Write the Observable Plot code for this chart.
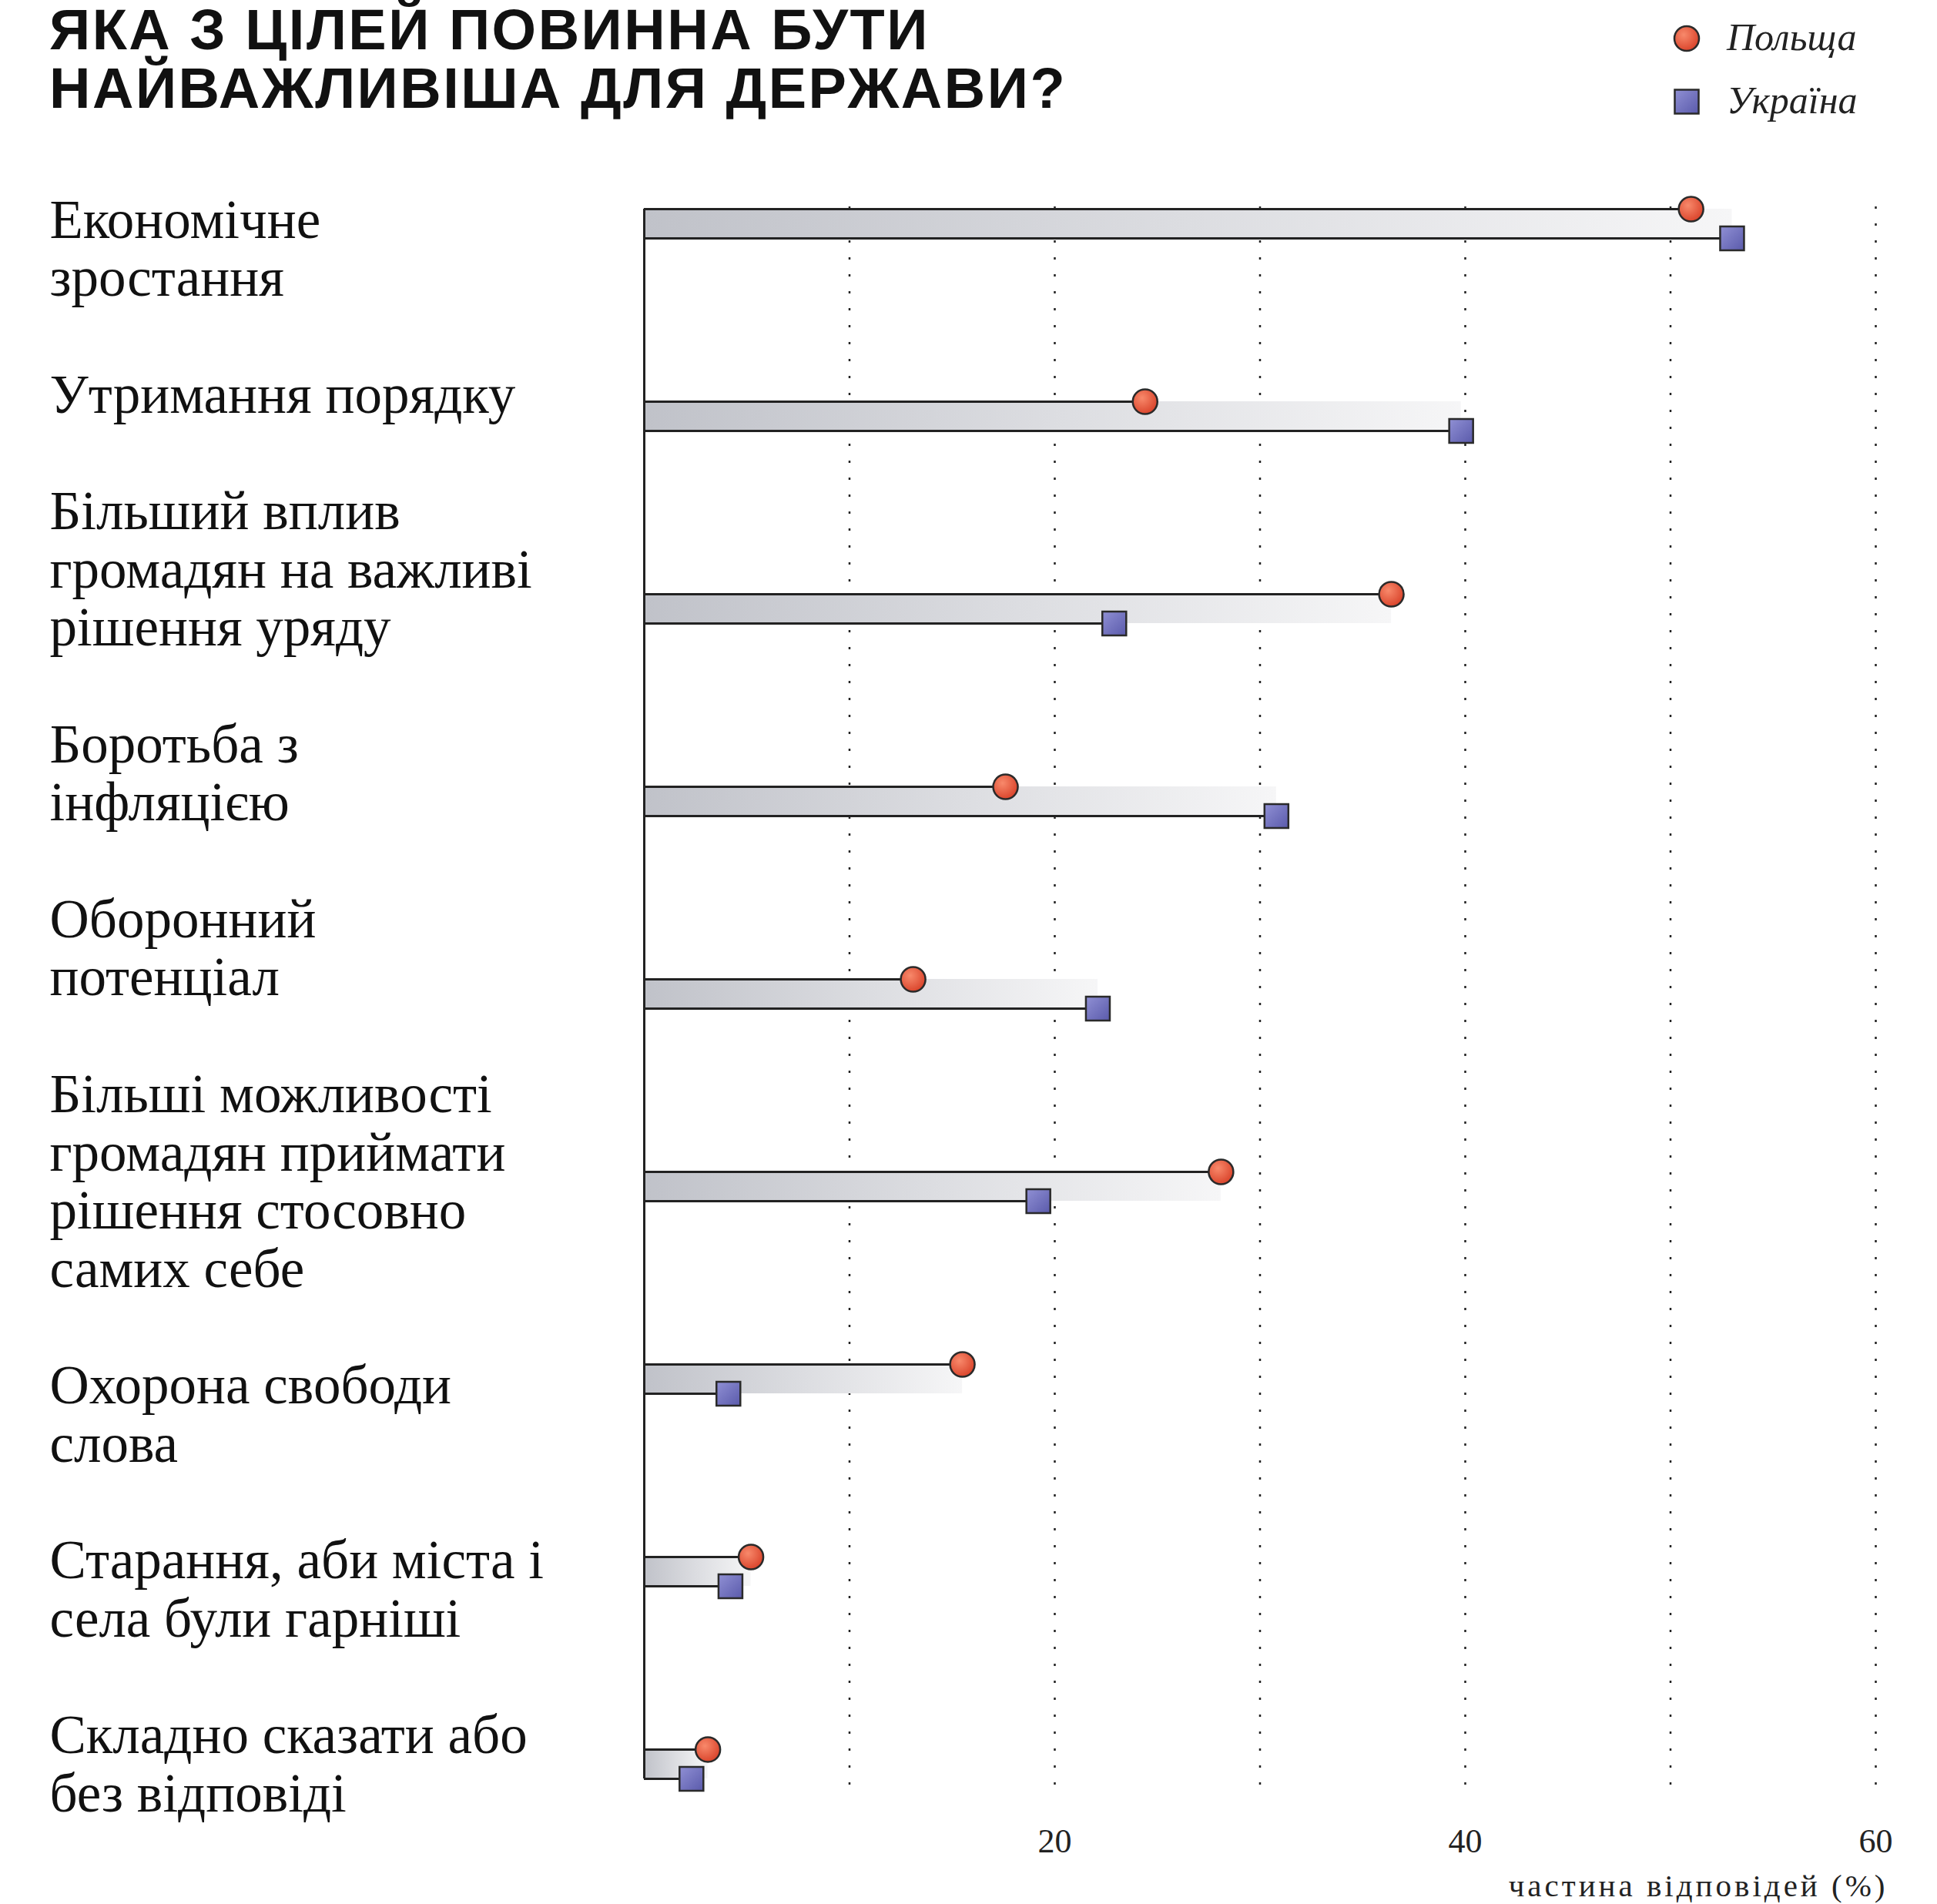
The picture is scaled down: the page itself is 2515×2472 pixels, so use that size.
<!DOCTYPE html>
<html><head><meta charset="utf-8">
<script src="https://cdn.jsdelivr.net/npm/d3@7"></script>
<script src="https://cdn.jsdelivr.net/npm/@observablehq/plot@0.6"></script>
<style>
body{margin:0;background:#fff;width:2515px;height:2472px;overflow:hidden;}
#header{position:relative;width:2515px;height:200px;}
#title{position:absolute;left:64px;top:1px;margin:0;font-family:"Liberation Sans",Arial,sans-serif;font-weight:700;font-size:74px;line-height:76px;letter-spacing:2.5px;color:#111;white-space:nowrap;}
#legend{position:absolute;left:2150px;top:0;}
#chart svg{display:block;}
</style></head>
<body>
<svg width="0" height="0" style="position:absolute">
  <defs>
    <linearGradient id="bandGrad" x1="0" y1="0" x2="1" y2="0">
      <stop offset="0" stop-color="#c0c2c9"/>
      <stop offset="0.5" stop-color="#dcdde1"/>
      <stop offset="1" stop-color="#f6f6f7"/>
    </linearGradient>
    <radialGradient id="dotGrad" cx="0.38" cy="0.35" r="0.75">
      <stop offset="0" stop-color="#f8896b"/>
      <stop offset="1" stop-color="#d63c24"/>
    </radialGradient>
    <linearGradient id="sqGrad" x1="0" y1="0" x2="1" y2="1">
      <stop offset="0" stop-color="#9090d4"/>
      <stop offset="1" stop-color="#5a5aab"/>
    </linearGradient>
  </defs>
</svg>
<div id="header">
  <h1 id="title">ЯКА З ЦІЛЕЙ ПОВИННА БУТИ<br>НАЙВАЖЛИВІША ДЛЯ ДЕРЖАВИ?</h1>
  <div id="legend"></div>
</div>
<div id="chart"></div>
<script>
const categories = [
  "Економічне\nзростання",
  "Утримання порядку",
  "Більший вплив\nгромадян на важливі\nрішення уряду",
  "Боротьба з\nінфляцією",
  "Оборонний\nпотенціал",
  "Більші можливості\nгромадян приймати\nрішення стосовно\nсамих себе",
  "Охорона свободи\nслова",
  "Старання, аби міста і\nсела були гарніші",
  "Складно сказати або\nбез відповіді"
];
const poland  = [51.0, 24.4, 36.4, 17.6, 13.1, 28.1, 15.5, 5.2, 3.1];
const ukraine = [53.0, 39.8, 22.9, 30.8, 22.1, 19.2, 4.1, 4.2, 2.3];
const seriesNames = ["Польща", "Україна"];
const xTicks = [20, 40, 60];
const gridValues = [10, 20, 30, 40, 50, 60];
const axisLabel = "частина відповідей (%)";

const rows = categories.map((c, i) => ({
  category: c, poland: poland[i], ukraine: ukraine[i],
  max: Math.max(poland[i], ukraine[i])
}));

const half = 19;
const rowStep = 250.625;
const firstCenter = 87;
const bandH = 2 * half;
const pInner = 1 - bandH / rowStep;
const ink = "#222";

const chart = Plot.plot({
  width: 2515,
  height: 2272,
  marginTop: 68,
  marginBottom: 138,
  marginLeft: 836,
  marginRight: 80,
  style: {fontFamily: "'Liberation Serif', serif", fontSize: "44px", color: ink, background: "transparent", overflow: "visible"},
  x: {domain: [0, 60], ticks: xTicks, tickSize: 0, tickPadding: 39, label: null},
  y: {
    type: "band", domain: categories, axis: null,
    range: [firstCenter - rowStep / 2, firstCenter + rowStep * (categories.length - 0.5)],
    paddingInner: pInner, paddingOuter: pInner / 2
  },
  marks: [
    Plot.ruleX(gridValues, {stroke: ink, strokeWidth: 2.5, strokeDasharray: "3 19"}),
    Plot.barX(rows, {y: "category", x1: 0, x2: "max", fill: "url(#bandGrad)"}),
    Plot.ruleY(rows, {y: "category", x1: 0, x2: "poland", dy: -half, stroke: ink, strokeWidth: 3}),
    Plot.ruleY(rows, {y: "category", x1: 0, x2: "ukraine", dy: half, stroke: ink, strokeWidth: 3}),
    Plot.ruleX([0], {y1: () => categories[0], y2: () => categories[categories.length - 1], stroke: ink, strokeWidth: 3}),
    Plot.dot(rows, {y: "category", x: "ukraine", dy: half, symbol: "square", r: 17.5, fill: "url(#sqGrad)", stroke: "#2a2a2a", strokeWidth: 2.5}),
    Plot.dot(rows, {y: "category", x: "poland", dy: -half, r: 16, fill: "url(#dotGrad)", stroke: "#2a2a2a", strokeWidth: 2.5}),
    Plot.text([categories.join("\n\n")], {
      frameAnchor: "top-left", text: d => d, textAnchor: "start", lineAnchor: "top",
      lineHeight: 1.066, fontSize: 71, dx: -772, dy: -13.7, fill: "#111"
    }),
    Plot.text([axisLabel], {
      frameAnchor: "bottom-right", text: d => d, textAnchor: "end", lineAnchor: "middle",
      fontSize: 41, dx: 16, dy: 114, fill: ink
    })
  ]
});
chart.querySelectorAll("text").forEach(t => {
  if (t.textContent === axisLabel) t.setAttribute("letter-spacing", "4");
});
document.getElementById("chart").appendChild(chart);

// legend
const leg = d3.select("#legend").append("svg").attr("width", 365).attr("height", 200);
const legRows = leg.selectAll("g").data(seriesNames).join("g")
  .attr("transform", (d, i) => `translate(40, ${i === 0 ? 50 : 132})`);
legRows.filter((d, i) => i === 0).append("circle").attr("r", 16)
  .attr("fill", "url(#dotGrad)").attr("stroke", "#2a2a2a").attr("stroke-width", 2.5);
legRows.filter((d, i) => i === 1).append("rect").attr("x", -15.5).attr("y", -15.5)
  .attr("width", 31).attr("height", 31)
  .attr("fill", "url(#sqGrad)").attr("stroke", "#2a2a2a").attr("stroke-width", 2.5);
legRows.append("text").attr("x", 52).attr("y", 15)
  .attr("font-family", "'Liberation Serif', serif").attr("font-style", "italic")
  .attr("font-size", 50).attr("fill", "#222")
  .text(d => d);
</script>
</body></html>
